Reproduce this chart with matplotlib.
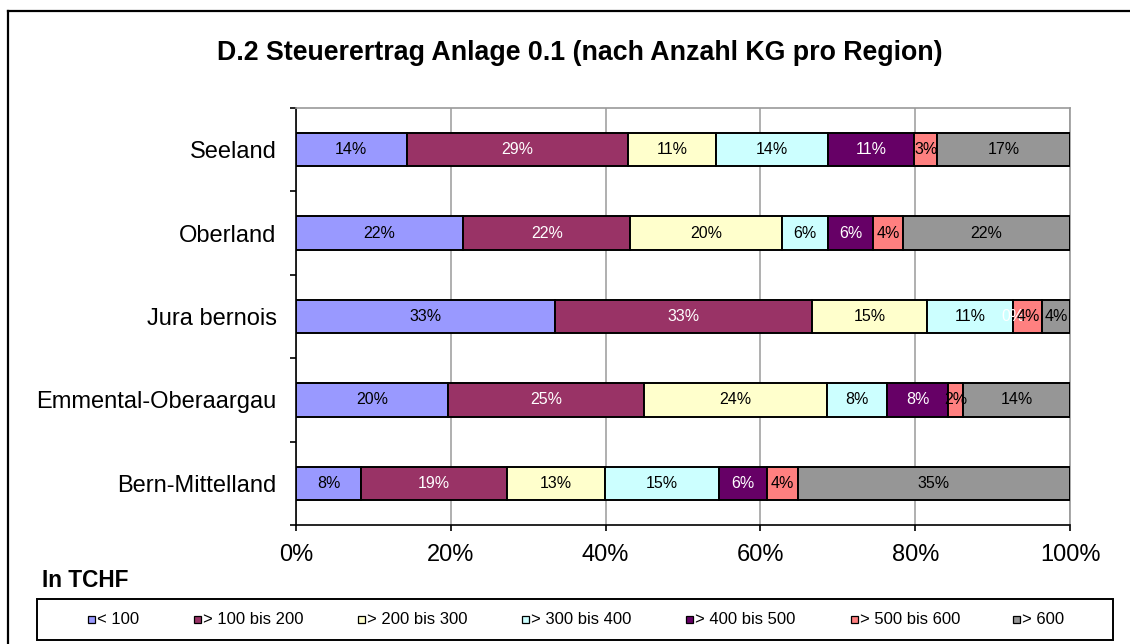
import matplotlib
matplotlib.use('Agg')
import matplotlib.pyplot as plt
from matplotlib.patches import Rectangle
from matplotlib.lines import Line2D

plt.rcParams['font.family'] = ['Liberation Sans', 'DejaVu Sans']

# regions, bottom to top as drawn
regions = ['Bern-Mittelland', 'Emmental-Oberaargau', 'Jura bernois', 'Oberland', 'Seeland']
classes = ['< 100', '> 100 bis 200', '> 200 bis 300', '> 300 bis 400',
           '> 400 bis 500', '> 500 bis 600', '> 600']
colors = ['#9999FF', '#993366', '#FFFFCC', '#CCFFFF', '#660066', '#FF8080', '#969696']
text_colors = ['black', 'white', 'black', 'black', 'white', 'black', 'black']

# share of KG per class (in %), same order as regions
lt100 = [8.4, 19.6, 33.4, 21.6, 14.3]
b100_200 = [18.9, 25.4, 33.3, 21.6, 28.6]
b200_300 = [12.6, 23.6, 14.8, 19.6, 11.4]
b300_400 = [14.7, 7.8, 11.2, 5.9, 14.4]
b400_500 = [6.3, 7.8, 0.0, 5.9, 11.2]
b500_600 = [3.9, 2.0, 3.7, 3.8, 2.9]
gt600 = [35.2, 13.8, 3.6, 21.6, 17.2]
series = [lt100, b100_200, b200_300, b300_400, b400_500, b500_600, gt600]

W, H = 1130, 644
fig = plt.figure(figsize=(W / 100, H / 100), dpi=100)

# outer chart border (left and top visible)
fig.add_artist(Line2D([8 / W, 8 / W], [0, 1 - 11 / H], color='black', lw=1.6,
                      transform=fig.transFigure))
fig.add_artist(Line2D([8 / W, 1], [1 - 11 / H, 1 - 11 / H], color='black', lw=1.6,
                      transform=fig.transFigure))

ax = fig.add_axes([296 / W, 1 - 525 / H, 774 / W, 417 / H])

ypos = list(range(len(regions)))
left = [0.0] * len(regions)
for vals, col, tcol in zip(series, colors, text_colors):
    ax.barh(ypos, vals, left=left, height=0.4, color=col, edgecolor='black',
            linewidth=1.4, zorder=3)
    for y, l, v in zip(ypos, left, vals):
        ax.text(l + v / 2, y, f'{v:.0f}%', ha='center', va='center',
                fontsize=11.5, color=tcol, zorder=4)
    left = [l + v for l, v in zip(left, vals)]

ax.set_xlim(0, 100)
ax.set_ylim(-0.5, 4.5)
ax.set_xticks(range(0, 101, 20))
ax.set_xticklabels([f'{t}%' for t in range(0, 101, 20)], fontsize=17)
ax.set_yticks(ypos)
ax.set_yticklabels(regions, fontsize=17)
ax.set_yticks([y - 0.5 for y in range(len(regions) + 1)], minor=True)
ax.tick_params(axis='y', which='major', length=0, pad=14)
ax.tick_params(axis='y', which='minor', length=4.5, width=1.2, direction='out')
ax.tick_params(axis='x', length=4.5, width=1.2, direction='out', pad=9)

ax.grid(axis='x', color='#9A9A9A', lw=1.1)
ax.set_axisbelow(True)
for side in ['top', 'right']:
    ax.spines[side].set_color('#9A9A9A')
    ax.spines[side].set_linewidth(1.2)
for side in ['left', 'bottom']:
    ax.spines[side].set_color('black')
    ax.spines[side].set_linewidth(1.2)

fig.text(580 / W, 1 - 60 / H, 'D.2 Steuerertrag Anlage 0.1 (nach Anzahl KG pro Region)',
         ha='center', va='baseline', fontsize=19.3, fontweight='bold')
fig.text(42 / W, 1 - 587 / H, 'In TCHF', ha='left', va='baseline',
         fontsize=16.3, fontweight='bold')

# legend box
fig.add_artist(Rectangle((37 / W, 1 - 640 / H), (1113 - 37) / W, 41 / H,
                         transform=fig.transFigure, facecolor='white',
                         edgecolor='black', lw=1.4))
marker_x = [91, 197, 361, 525, 689, 854, 1016]
ly = 619
for mx, col, lab in zip(marker_x, colors, classes):
    fig.add_artist(Rectangle(((mx - 3.5) / W, 1 - (ly + 3.5) / H), 7 / W, 7 / H,
                             transform=fig.transFigure, facecolor=col,
                             edgecolor='black', lw=0.9))
    fig.text((mx + 6) / W, 1 - ly / H, lab, ha='left', va='center', fontsize=12)

fig.savefig('out.png', dpi=100)
